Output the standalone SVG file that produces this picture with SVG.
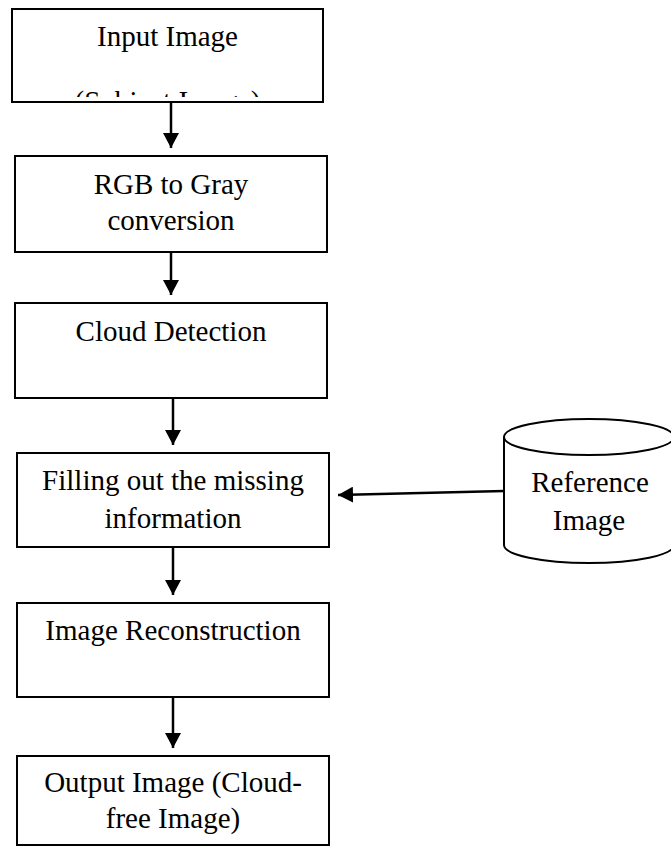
<svg xmlns="http://www.w3.org/2000/svg" width="671" height="848" viewBox="0 0 671 848">
  <style>
    .box { fill: #ffffff; stroke: #000000; stroke-width: 2; }
    .lbl { font-family: "Liberation Serif", "Times New Roman", serif; font-size: 29px; fill: #000000; text-anchor: middle; }
    .edge { stroke: #000000; stroke-width: 2.5; fill: none; }
  </style>
  <defs>
    <marker id="arrow" markerUnits="userSpaceOnUse" markerWidth="16" markerHeight="16" refX="15" refY="8" orient="auto">
      <path d="M0,0 L15,8 L0,16 Z" fill="#000000"/>
    </marker>
    <clipPath id="clip-input">
      <rect x="12" y="9" width="311" height="88"/>
    </clipPath>
  </defs>
  <rect width="671" height="848" fill="#ffffff"/>

  <g id="node-input">
    <rect class="box" x="12" y="9" width="311" height="93"/>
    <text class="lbl" x="167.5" y="46">Input Image</text>
    <text class="lbl" x="167.5" y="111" clip-path="url(#clip-input)">(Subject Image)</text>
  </g>

  <g id="node-gray">
    <rect class="box" x="15" y="156" width="312" height="96"/>
    <text class="lbl" x="171" y="194">RGB to Gray</text>
    <text class="lbl" x="171" y="230">conversion</text>
  </g>

  <g id="node-cloud">
    <rect class="box" x="15" y="303" width="312" height="95"/>
    <text class="lbl" x="171" y="341">Cloud Detection</text>
  </g>

  <g id="node-fill">
    <rect class="box" x="17" y="453" width="312" height="94"/>
    <text class="lbl" x="173" y="490">Filling out the missing</text>
    <text class="lbl" x="173" y="528">information</text>
  </g>

  <g id="node-recon">
    <rect class="box" x="17" y="603" width="312" height="94"/>
    <text class="lbl" x="173" y="640">Image Reconstruction</text>
  </g>

  <g id="node-output">
    <rect class="box" x="17" y="756" width="312" height="89"/>
    <text class="lbl" x="173" y="792">Output Image (Cloud-</text>
    <text class="lbl" x="173" y="828">free Image)</text>
  </g>

  <g id="node-reference">
    <path class="box" d="M504,437 L504,545 A85,18 0 0 0 674,545 L674,437"/>
    <ellipse class="box" cx="589" cy="437" rx="85" ry="18"/>
    <text class="lbl" x="590" y="492">Reference</text>
    <text class="lbl" x="589" y="530">Image</text>
  </g>

  <g id="connectors">
    <line class="edge" x1="171" y1="102" x2="171" y2="148" marker-end="url(#arrow)"/>
    <line class="edge" x1="171" y1="252" x2="171" y2="295" marker-end="url(#arrow)"/>
    <line class="edge" x1="173" y1="398" x2="173" y2="445" marker-end="url(#arrow)"/>
    <line class="edge" x1="173" y1="547" x2="173" y2="595" marker-end="url(#arrow)"/>
    <line class="edge" x1="173" y1="697" x2="173" y2="748" marker-end="url(#arrow)"/>
    <line class="edge" x1="504" y1="491" x2="338" y2="495" marker-end="url(#arrow)"/>
  </g>
</svg>
